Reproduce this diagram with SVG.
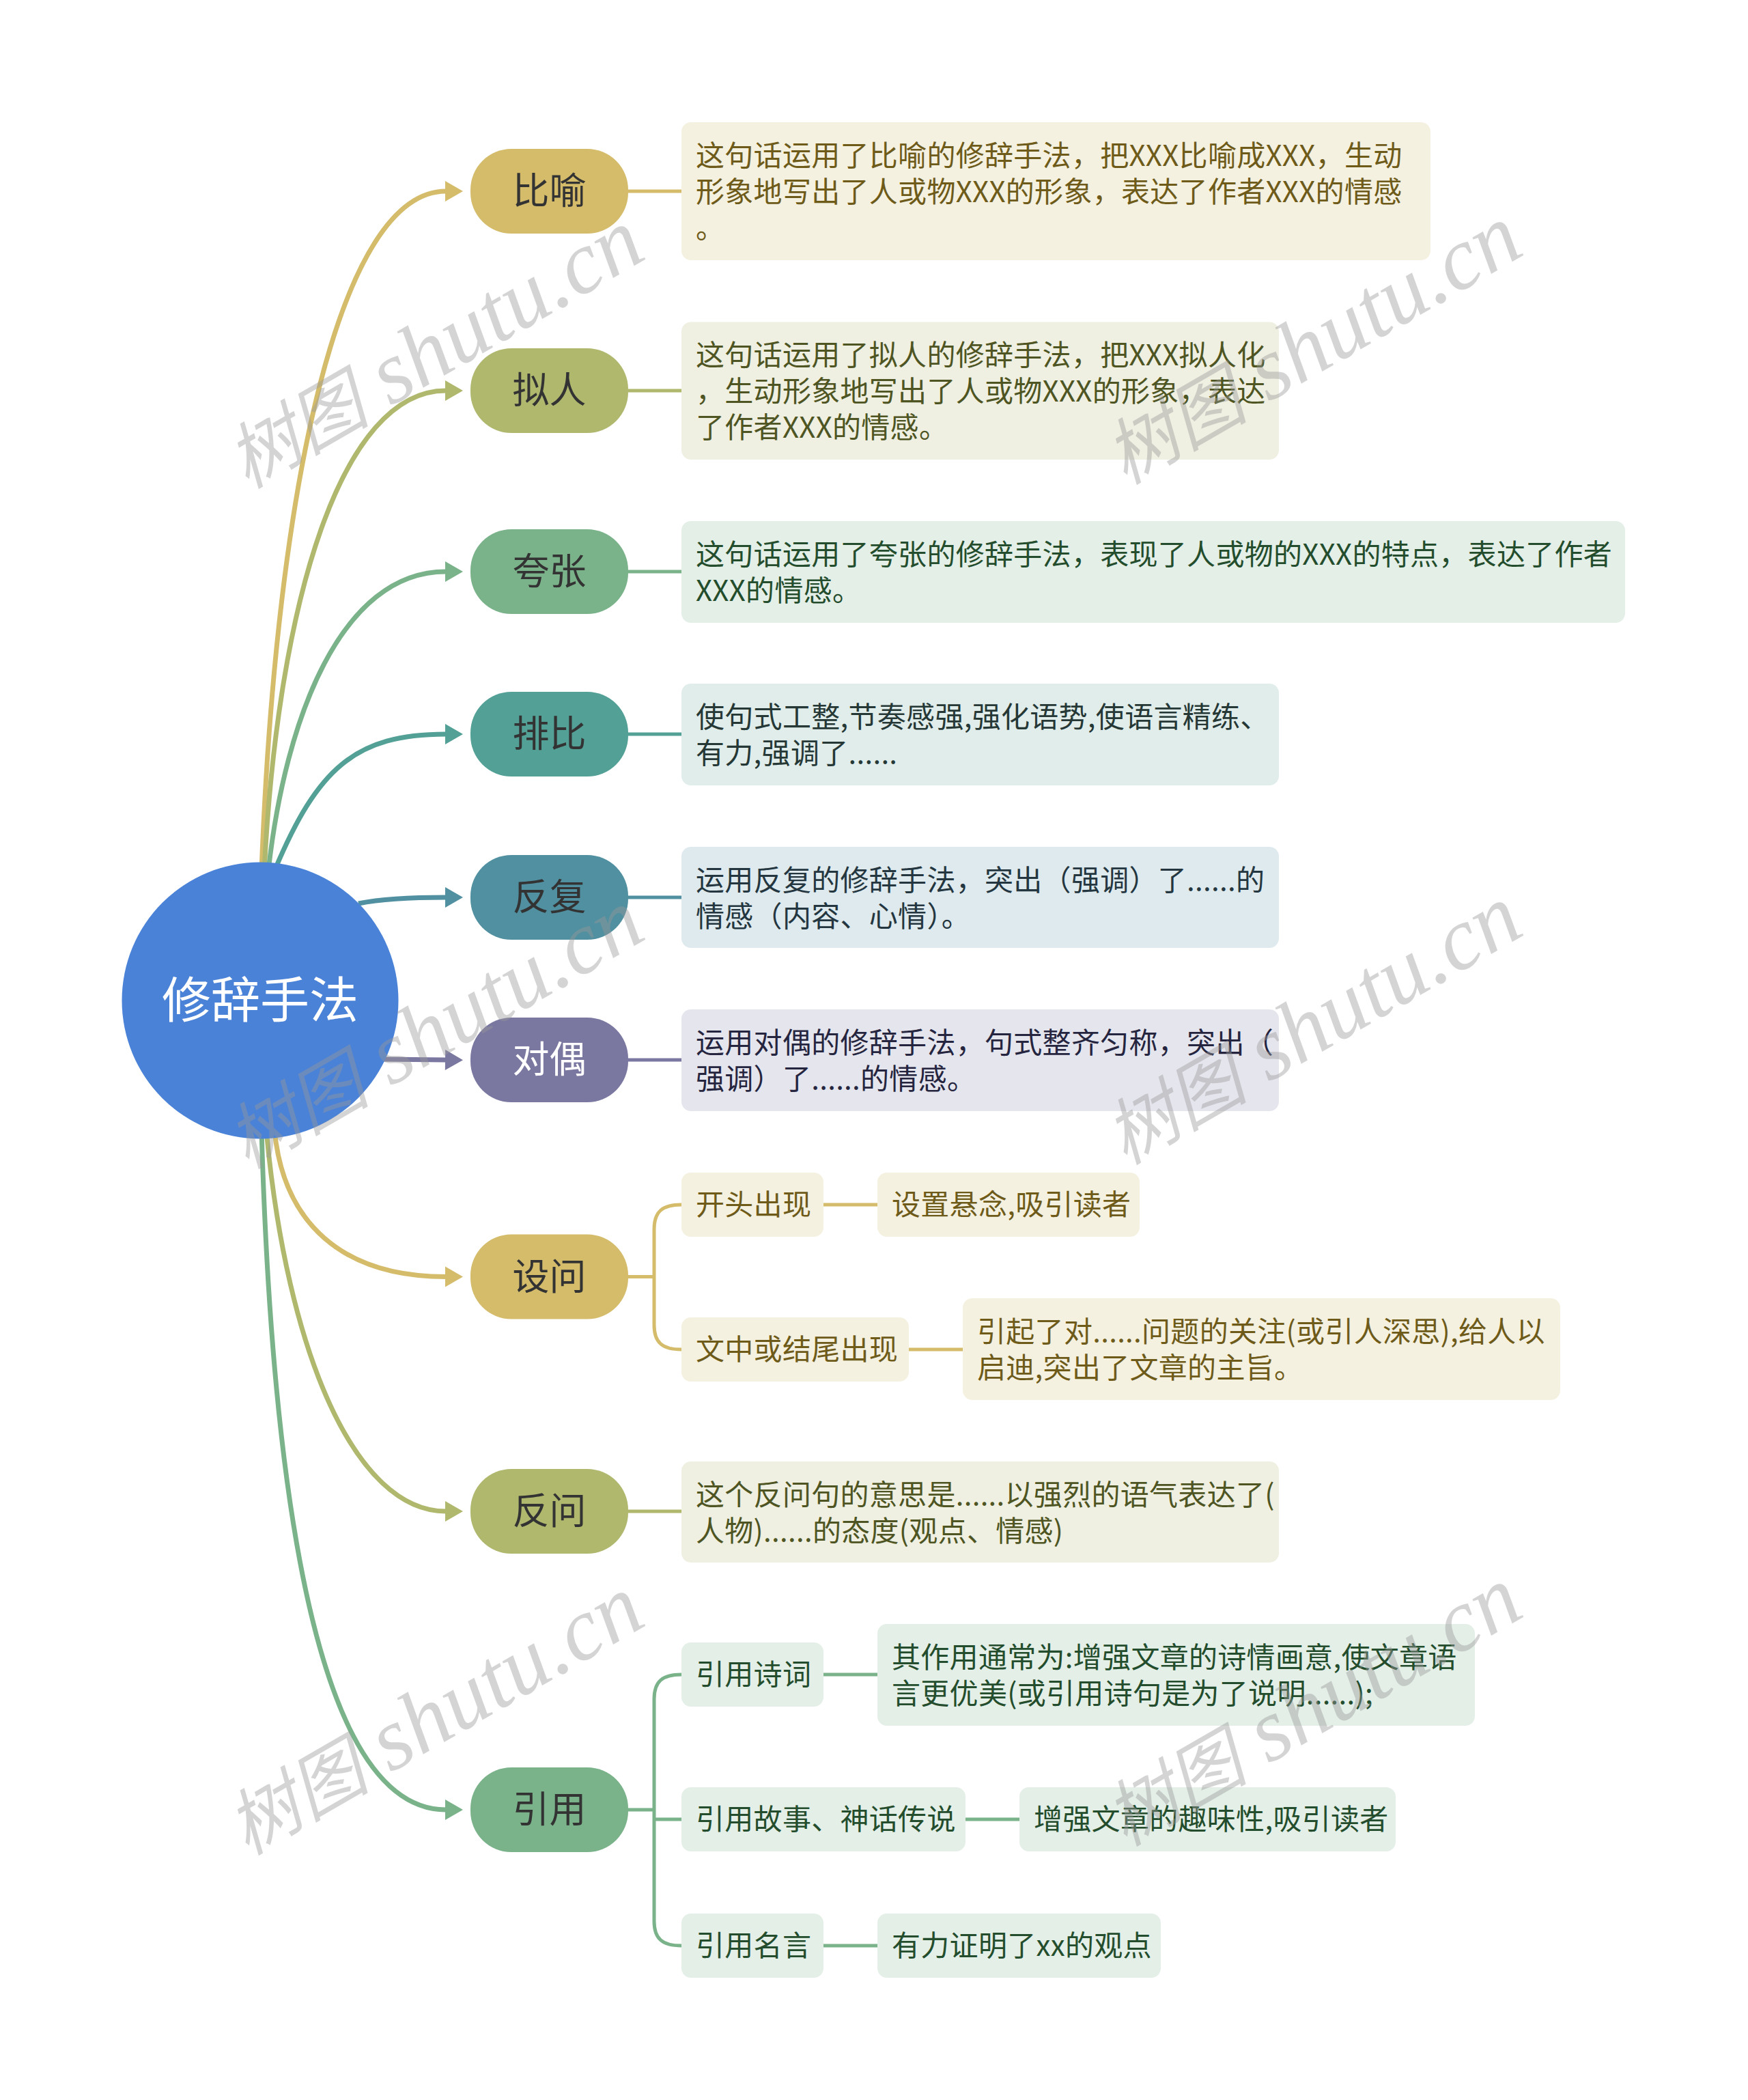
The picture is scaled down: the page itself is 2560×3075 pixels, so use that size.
<svg xmlns="http://www.w3.org/2000/svg" width="2560" height="3075" viewBox="0 0 2560 3075">
<style>
.nt{font-family:"Noto Sans CJK SC","Noto Sans",sans-serif;font-size:54px;fill:#333;text-anchor:middle}
.rt{font-family:"Noto Sans CJK SC","Noto Sans",sans-serif;font-size:72px;fill:#fff;text-anchor:middle}
.dt{font-family:"Noto Sans CJK SC","Noto Sans",sans-serif;font-size:42px;letter-spacing:0.3px}
.cn{fill:none;stroke-width:7;stroke-linecap:butt}
.ln{fill:none;stroke-width:5}
.wm{font-family:"Liberation Serif",serif;font-style:italic;fill:#999;fill-opacity:0.42}
.wmc{font-family:"Noto Sans CJK SC",sans-serif;font-size:105px}
.wml{font-family:"Liberation Serif",serif;font-size:130px}
</style>
<defs>
<marker id="aY" markerUnits="userSpaceOnUse" markerWidth="27" markerHeight="30" refX="1" refY="15" orient="auto" overflow="visible"><path d="M0,0 L26,15 L0,30 Z" fill="#D4BC6B"/></marker>
<marker id="aO" markerUnits="userSpaceOnUse" markerWidth="27" markerHeight="30" refX="1" refY="15" orient="auto" overflow="visible"><path d="M0,0 L26,15 L0,30 Z" fill="#B0B86E"/></marker>
<marker id="aG" markerUnits="userSpaceOnUse" markerWidth="27" markerHeight="30" refX="1" refY="15" orient="auto" overflow="visible"><path d="M0,0 L26,15 L0,30 Z" fill="#7AB28A"/></marker>
<marker id="aT" markerUnits="userSpaceOnUse" markerWidth="27" markerHeight="30" refX="1" refY="15" orient="auto" overflow="visible"><path d="M0,0 L26,15 L0,30 Z" fill="#53A096"/></marker>
<marker id="aB" markerUnits="userSpaceOnUse" markerWidth="27" markerHeight="30" refX="1" refY="15" orient="auto" overflow="visible"><path d="M0,0 L26,15 L0,30 Z" fill="#5090A0"/></marker>
<marker id="aP" markerUnits="userSpaceOnUse" markerWidth="27" markerHeight="30" refX="1" refY="15" orient="auto" overflow="visible"><path d="M0,0 L26,15 L0,30 Z" fill="#7A78A0"/></marker>
</defs>
<rect width="2560" height="3075" fill="#fff"/>

<g id="connectors">
<path class="cn" stroke="#D4BC6B" d="M383,1275 C405,700 500,280 653,280" marker-end="url(#aY)"/>
<path class="cn" stroke="#B0B86E" d="M387,1275 C407,880 500,572 653,572" marker-end="url(#aO)"/>
<path class="cn" stroke="#7AB28A" d="M393,1275 C418,1050 500,837 653,837" marker-end="url(#aG)"/>
<path class="cn" stroke="#53A096" d="M402,1275 C465,1125 520,1075 653,1075" marker-end="url(#aT)"/>
<path class="cn" stroke="#5090A0" d="M525,1323 C560,1316 600,1314 653,1314" marker-end="url(#aB)"/>
<path class="cn" stroke="#7A78A0" d="M560,1551 L653,1552" marker-end="url(#aP)"/>
<path class="cn" stroke="#D4BC6B" d="M402,1655 C415,1790 500,1869.5 653,1869.5" marker-end="url(#aY)"/>
<path class="cn" stroke="#B0B86E" d="M390,1655 C420,1980 520,2213 653,2213" marker-end="url(#aO)"/>
<path class="cn" stroke="#7AB28A" d="M383,1655 C400,2240 475,2650 653,2650" marker-end="url(#aG)"/>

<path class="ln" stroke="#D4BC6B" d="M920,280 H998"/>
<path class="ln" stroke="#B0B86E" d="M920,572 H998"/>
<path class="ln" stroke="#7AB28A" d="M920,837 H998"/>
<path class="ln" stroke="#53A096" d="M920,1075 H998"/>
<path class="ln" stroke="#5090A0" d="M920,1314 H998"/>
<path class="ln" stroke="#7A78A0" d="M920,1552 H998"/>
<path class="ln" stroke="#B0B86E" d="M920,2213 H998"/>

<path class="ln" stroke="#D4BC6B" d="M920,1869.5 H958"/>
<path class="ln" stroke="#D4BC6B" d="M998,1764 C970,1764 958,1774 958,1800 V1940 C958,1966 970,1976 998,1976"/>
<path class="ln" stroke="#D4BC6B" d="M1206,1764 H1285"/>
<path class="ln" stroke="#D4BC6B" d="M1331,1976 H1410"/>

<path class="ln" stroke="#7AB28A" d="M920,2650 H958"/>
<path class="ln" stroke="#7AB28A" d="M998,2452 C970,2452 958,2462 958,2488 V2813 C958,2839 970,2849 998,2849"/>
<path class="ln" stroke="#7AB28A" d="M958,2664 H998"/>
<path class="ln" stroke="#7AB28A" d="M1206,2452 H1285"/>
<path class="ln" stroke="#7AB28A" d="M1414,2664 H1493"/>
<path class="ln" stroke="#7AB28A" d="M1206,2849 H1285"/>
</g>

<g id="root">
<circle cx="381" cy="1465" r="202.5" fill="#4A82D8"/>
<text class="rt" x="381" y="1490">修辞手法</text>
</g>

<g id="n-biyu">
<rect x="689" y="218" width="231" height="124" rx="60" fill="#D4BC6B"/>
<text class="nt" x="804.5" y="299">比喻</text>
</g>
<g id="d-biyu">
<rect x="998" y="179" width="1097" height="202" rx="14" fill="#F5F1E0"/>
<text class="dt" fill="#6E5B1A"><tspan x="1019" y="242.5">这句话运用了比喻的修辞手法，把XXX比喻成XXX，生动</tspan><tspan x="1019" y="295.5">形象地写出了人或物XXX的形象，表达了作者XXX的情感</tspan><tspan x="1019" y="348.5">。</tspan></text>
</g>

<g id="n-niren">
<rect x="689" y="510" width="231" height="124" rx="60" fill="#B0B86E"/>
<text class="nt" x="804.5" y="591">拟人</text>
</g>
<g id="d-niren">
<rect x="998" y="471.5" width="875" height="201.5" rx="14" fill="#EFF0E2"/>
<text class="dt" fill="#4E5522"><tspan x="1019" y="535">这句话运用了拟人的修辞手法，把XXX拟人化</tspan><tspan x="1019" y="588">，生动形象地写出了人或物XXX的形象，表达</tspan><tspan x="1019" y="641">了作者XXX的情感。</tspan></text>
</g>

<g id="n-kuazhang">
<rect x="689" y="775" width="231" height="124" rx="60" fill="#7AB28A"/>
<text class="nt" x="804.5" y="856">夸张</text>
</g>
<g id="d-kuazhang">
<rect x="998" y="763" width="1382" height="149" rx="14" fill="#E4EFE8"/>
<text class="dt" fill="#234D2C"><tspan x="1019" y="826.5">这句话运用了夸张的修辞手法，表现了人或物的XXX的特点，表达了作者</tspan><tspan x="1019" y="879.5">XXX的情感。</tspan></text>
</g>

<g id="n-paibi">
<rect x="689" y="1013" width="231" height="124" rx="60" fill="#53A096"/>
<text class="nt" x="804.5" y="1094">排比</text>
</g>
<g id="d-paibi">
<rect x="998" y="1001" width="875" height="149" rx="14" fill="#E0EDEB"/>
<text class="dt" fill="#263836"><tspan x="1019" y="1064.5">使句式工整,节奏感强,强化语势,使语言精练、</tspan><tspan x="1019" y="1117.5">有力,强调了......</tspan></text>
</g>

<g id="n-fanfu">
<rect x="689" y="1252" width="231" height="124" rx="60" fill="#5090A0"/>
<text class="nt" x="804.5" y="1333">反复</text>
</g>
<g id="d-fanfu">
<rect x="998" y="1240" width="875" height="148" rx="14" fill="#DFEAEE"/>
<text class="dt" fill="#243640"><tspan x="1019" y="1303.5">运用反复的修辞手法，突出（强调）了......的</tspan><tspan x="1019" y="1356.5">情感（内容、心情）。</tspan></text>
</g>

<g id="n-duiou">
<rect x="689" y="1490" width="231" height="124" rx="60" fill="#7A78A0"/>
<text class="nt" x="804.5" y="1571" style="fill:#fff">对偶</text>
</g>
<g id="d-duiou">
<rect x="998" y="1478" width="875" height="149" rx="14" fill="#E5E5EE"/>
<text class="dt" fill="#25253F"><tspan x="1019" y="1541.5">运用对偶的修辞手法，句式整齐匀称，突出（</tspan><tspan x="1019" y="1594.5">强调）了......的情感。</tspan></text>
</g>

<g id="n-shewen">
<rect x="689" y="1807.5" width="231" height="124" rx="60" fill="#D4BC6B"/>
<text class="nt" x="804.5" y="1888.5">设问</text>
</g>
<g id="c-kaitou">
<rect x="998" y="1717" width="208" height="94" rx="14" fill="#F5F1E0"/>
<text class="dt" fill="#6E5B1A" x="1019" y="1779">开头出现</text>
</g>
<g id="g-xuannian">
<rect x="1285" y="1717" width="384" height="94" rx="14" fill="#F5F1E0"/>
<text class="dt" fill="#6E5B1A" x="1306" y="1779">设置悬念,吸引读者</text>
</g>
<g id="c-wenzhong">
<rect x="998" y="1929" width="333" height="94" rx="14" fill="#F5F1E0"/>
<text class="dt" fill="#6E5B1A" x="1019" y="1991">文中或结尾出现</text>
</g>
<g id="g-yinqi">
<rect x="1410" y="1901" width="875" height="149" rx="14" fill="#F5F1E0"/>
<text class="dt" fill="#6E5B1A"><tspan x="1431" y="1964.5">引起了对......问题的关注(或引人深思),给人以</tspan><tspan x="1431" y="2017.5">启迪,突出了文章的主旨。</tspan></text>
</g>

<g id="n-fanwen">
<rect x="689" y="2151" width="231" height="124" rx="60" fill="#B0B86E"/>
<text class="nt" x="804.5" y="2232">反问</text>
</g>
<g id="d-fanwen">
<rect x="998" y="2140" width="875" height="148" rx="14" fill="#EFF0E2"/>
<text class="dt" fill="#4E5522"><tspan x="1019" y="2203.5">这个反问句的意思是......以强烈的语气表达了(</tspan><tspan x="1019" y="2256.5">人物)......的态度(观点、情感)</tspan></text>
</g>

<g id="n-yinyong">
<rect x="689" y="2588" width="231" height="124" rx="60" fill="#7AB28A"/>
<text class="nt" x="804.5" y="2669">引用</text>
</g>
<g id="c-shici">
<rect x="998" y="2405" width="208" height="94" rx="14" fill="#E4EFE8"/>
<text class="dt" fill="#234D2C" x="1019" y="2467">引用诗词</text>
</g>
<g id="g-shici">
<rect x="1285" y="2378" width="875" height="149" rx="14" fill="#E4EFE8"/>
<text class="dt" fill="#234D2C"><tspan x="1306" y="2441.5">其作用通常为:增强文章的诗情画意,使文章语</tspan><tspan x="1306" y="2494.5">言更优美(或引用诗句是为了说明......);</tspan></text>
</g>
<g id="c-gushi">
<rect x="998" y="2617" width="416" height="94" rx="14" fill="#E4EFE8"/>
<text class="dt" fill="#234D2C" x="1019" y="2679">引用故事、神话传说</text>
</g>
<g id="g-gushi">
<rect x="1493" y="2617" width="551" height="94" rx="14" fill="#E4EFE8"/>
<text class="dt" fill="#234D2C" x="1514" y="2679">增强文章的趣味性,吸引读者</text>
</g>
<g id="c-mingyan">
<rect x="998" y="2802" width="208" height="94" rx="14" fill="#E4EFE8"/>
<text class="dt" fill="#234D2C" x="1019" y="2864">引用名言</text>
</g>
<g id="g-mingyan">
<rect x="1285" y="2802" width="415" height="94" rx="14" fill="#E4EFE8"/>
<text class="dt" fill="#234D2C" x="1306" y="2864">有力证明了xx的观点</text>
</g>

<g id="watermarks" class="wm">
<text transform="translate(636,512) rotate(-30)" x="0" y="40" text-anchor="middle"><tspan class="wmc">树图</tspan><tspan class="wml"> shutu.cn</tspan></text>
<text transform="translate(1922,506) rotate(-30)" x="0" y="40" text-anchor="middle"><tspan class="wmc">树图</tspan><tspan class="wml"> shutu.cn</tspan></text>
<text transform="translate(636,1508) rotate(-30)" x="0" y="40" text-anchor="middle"><tspan class="wmc">树图</tspan><tspan class="wml"> shutu.cn</tspan></text>
<text transform="translate(1922,1502) rotate(-30)" x="0" y="40" text-anchor="middle"><tspan class="wmc">树图</tspan><tspan class="wml"> shutu.cn</tspan></text>
<text transform="translate(636,2513) rotate(-30)" x="0" y="40" text-anchor="middle"><tspan class="wmc">树图</tspan><tspan class="wml"> shutu.cn</tspan></text>
<text transform="translate(1922,2500) rotate(-30)" x="0" y="40" text-anchor="middle"><tspan class="wmc">树图</tspan><tspan class="wml"> shutu.cn</tspan></text>
</g>
</svg>
